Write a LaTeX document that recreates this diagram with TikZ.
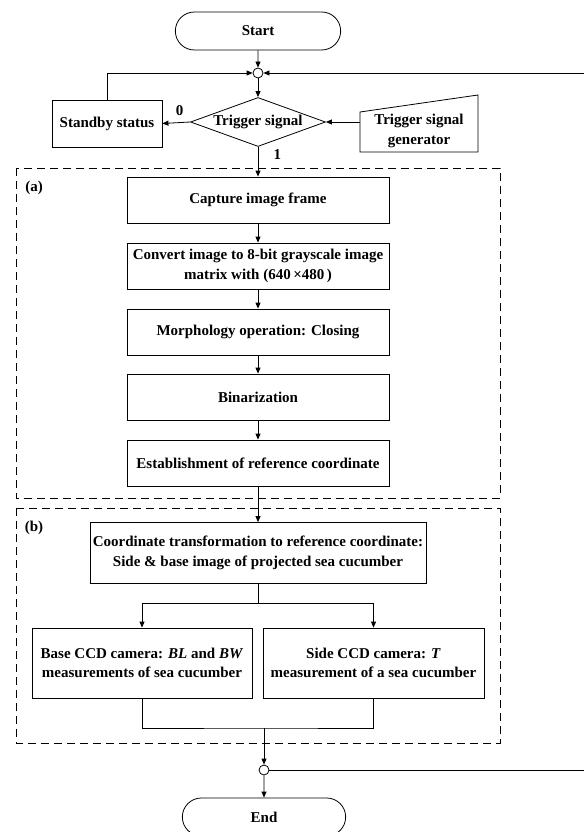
\documentclass[tikz,border=0pt]{standalone}
\usepackage{fontspec}
\setmainfont{Liberation Serif}
\usetikzlibrary{shapes.geometric,shapes.misc,arrows.meta}

\begin{document}
\begin{tikzpicture}[x=1pt,y=-1pt,line width=0.8pt,
    font=\fontsize{15}{19.5}\selectfont\bfseries,
    box/.style={draw,align=center,minimum width=262pt,minimum height=46pt,inner sep=2pt},
    term/.style={draw,rounded rectangle,minimum width=172pt,minimum height=38pt},
    dec/.style={draw,diamond,aspect=2.75,inner sep=0pt,minimum width=135pt,minimum height=49pt},
    jn/.style={draw,circle,inner sep=0pt,minimum size=10pt,fill=white},
    arr/.style={-{Triangle[length=6pt,width=5pt]}},
    grp/.style={dash pattern=on 8pt off 5pt}]
    \useasboundingbox (0,0) rectangle (584,832);
    % top part
    \node[term] (start) at (258,31) {Start};
    \node[jn] (jtop) at (258,73) {};
    \node[dec] (trig) at (258,122) {Trigger signal};
    \node[box,minimum width=110pt,minimum height=47pt] (stby) at (107,123.5) {Standby status};
    \node[align=center,inner sep=0pt] (gen) at (419,131) {Trigger signal\\generator};
    \coordinate (gw) at ([xshift=-59pt]gen.center);
    \draw ([xshift=-59pt,yshift=-21pt]gen.center) -- ([xshift=59pt,yshift=-21pt]gen.center)
        -- ([xshift=59pt,yshift=36pt]gen.center) -- ([xshift=-59pt,yshift=19pt]gen.center) -- cycle;
    \coordinate (rt) at (584,73);
    \draw[arr] (start) -- (jtop);
    \draw[arr] (jtop) -- (trig);
    \draw[arr] (stby.north) |- (jtop.west);
    \draw[arr] (rt) -- (jtop.east);
    \draw[arr] (trig.west) -- (stby.east) node[pos=0.38,above=3pt] {0};
    \draw[arr] (gw |- trig.east) -- (trig.east);
    % (a)
    \draw[grp] (16,168) rectangle (500,498);
    \node (la) at (34,188) {(a)};
    \node[box] (cap) at (258,200) {Capture image frame};
    \node[box] (conv) at (258,266) {Convert image to 8-bit grayscale image\\matrix with (640\,×480\,)};
    \node[box] (morph) at (258,332) {Morphology operation: Closing};
    \node[box] (bin) at (258,397) {Binarization};
    \node[box] (est) at (258,463) {Establishment of reference coordinate};
    \draw[arr] (trig.south) -- (cap.north) node[pos=0.27,right=12pt] {1};
    \foreach \a/\b in {cap/conv,conv/morph,morph/bin,bin/est}
        \draw[arr] (\a) -- (\b);
    % (b)
    \draw[grp] (16,508) rectangle (500,743);
    \node (lb) at (34,528) {(b)};
    \node[box,minimum width=336pt,minimum height=61pt] (coord) at (258,553)
        {Coordinate transformation to reference coordinate:\\Side \& base image of projected sea cucumber};
    \node[box,minimum width=220pt,minimum height=70pt] (base) at (142,663)
        {Base CCD camera: \textit{BL} and \textit{BW}\\measurements of sea cucumber};
    \node[box,minimum width=221pt,minimum height=70pt] (side) at (373.5,663)
        {Side CCD camera: \textit{T}\\measurement of a sea cucumber};
    \draw[arr] (est) -- (coord);
    \coordinate (spl) at (258,603);
    \draw (coord.south) -- (spl);
    \draw[arr] (spl) -| (base.north);
    \draw[arr] (spl) -| (side.north);
    \coordinate (mrg) at (264,728);
    \draw (base.south) |- (mrg) -| (side.south);
    % bottom
    \node[jn] (jbot) at (264,770) {};
    \node[term,minimum width=170pt] (end) at (264,817) {End};
    \coordinate (rb) at (584,770);
    \draw[arr] (mrg) -- (jbot);
    \draw[arr] (jbot) -- (end);
    \draw (jbot.east) -- (rb);
\end{tikzpicture}
\end{document}
